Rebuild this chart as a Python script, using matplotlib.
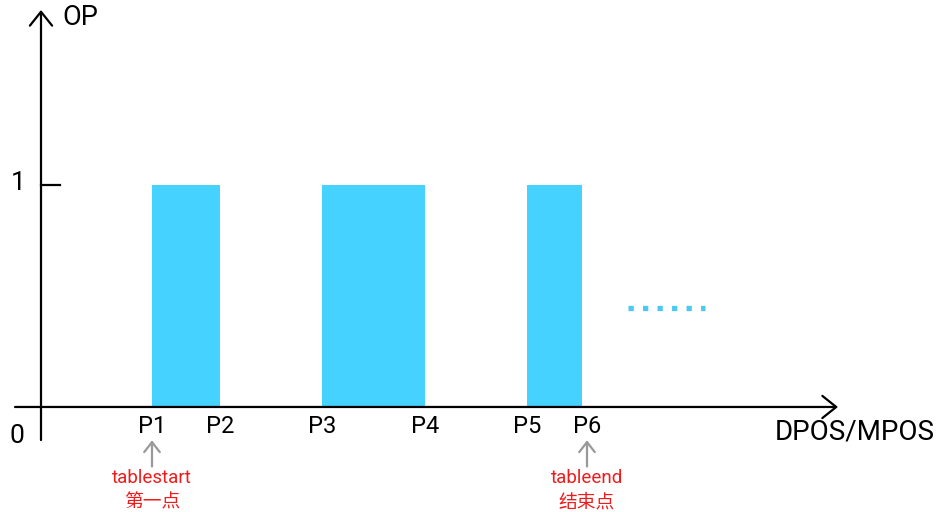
import matplotlib.pyplot as plt

plt.rcParams['font.family'] = ['Roboto', 'Noto Sans CJK SC', 'DejaVu Sans']

# positions of the points on the DPOS/MPOS axis
pos = [1.11, 1.79, 2.81, 3.84, 4.86, 5.41]
pos_labels = ['P1', 'P2', 'P3', 'P4', 'P5', 'P6']
op_level = 1
# pulses: (start index, end index) into pos
pulses = [(0, 1), (2, 3), (4, 5)]
# notes under the first and last point
notes = {0: ('tablestart', '第一点'), 5: ('tableend', '结束点')}
dots_x = [5.87, 6.64]
dots_y = 0.446

bar_color = '#46d2fe'

fig = plt.figure(figsize=(9.42, 5.12), dpi=100)
ax = fig.add_axes([0, 0, 1, 1])
ax.set_xlim(-0.41, 9.01)
ax.set_ylim(-0.473, 1.833)
ax.axis('off')

# 脉冲
for a, b in pulses:
    ax.bar(pos[a], op_level, width=pos[b] - pos[a], align='edge',
           color=bar_color, linewidth=0)

# 省略号
ax.plot(dots_x, [dots_y, dots_y], color='#4cc9f2', lw=3.8,
        linestyle=(0, (1.0, 1.75)), solid_capstyle='butt',
        dash_capstyle='butt')

# 坐标轴
arrow = dict(arrowstyle='->,head_length=0.5,head_width=0.4',
             mutation_scale=20, lw=1.6, color='black',
             shrinkA=0, shrinkB=0)
ax.annotate('', xy=(7.97, 0), xytext=(-0.26, 0), arrowprops=arrow)
ax.annotate('', xy=(0, 1.788), xytext=(0, -0.149), arrowprops=arrow)
ax.plot([0, 0.19], [op_level, op_level], color='black', lw=1.6)

ax.text(0.39, 1.754, 'OP', fontsize=19.5, ha='center', va='center')
ax.text(-0.23, op_level + 0.01, '1', fontsize=19, ha='center', va='center')
ax.text(-0.24, -0.13, '0', fontsize=19, ha='center', va='center')
ax.text(8.94, -0.113, 'DPOS/MPOS', fontsize=20, ha='right', va='center')

# P6 label sits a little right of the bar edge
for i, (x, lab) in enumerate(zip(pos, pos_labels)):
    dx = 0.05 if i == len(pos) - 1 else 0
    ax.text(x + dx, -0.086, lab, fontsize=17, ha='center', va='center')

gray_arrow = dict(arrowstyle='->,head_length=0.45,head_width=0.35',
                  mutation_scale=16, lw=1.6, color='#999999',
                  shrinkA=0, shrinkB=0)
for i, (en, zh) in notes.items():
    x = pos[i] + (0.05 if i == len(pos) - 1 else 0)
    ax.annotate('', xy=(x, -0.15), xytext=(x, -0.268),
                arrowprops=gray_arrow)
    ax.text(x, -0.322, en, fontsize=13.5, color='#f01c1c',
            ha='center', va='center')
    ax.text(x, -0.43, zh, fontsize=13.5, color='#f01c1c',
            ha='center', va='center')

fig.savefig('out.png', dpi=100)
